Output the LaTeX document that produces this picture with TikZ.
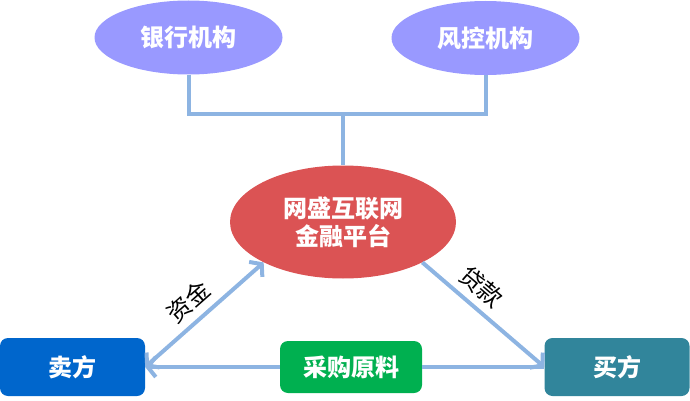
\documentclass[tikz,border=0pt]{standalone}
\usepackage{fontspec}
\setmainfont{Noto Sans CJK SC}
\usetikzlibrary{positioning,arrows.meta,shapes.geometric}
\definecolor{orgcol}{RGB}{153,153,255}
\definecolor{flow}{RGB}{141,180,226}
\definecolor{platcol}{RGB}{219,83,84}
\definecolor{sellcol}{RGB}{0,102,204}
\definecolor{goodscol}{RGB}{0,176,80}
\definecolor{buycol}{RGB}{49,133,155}
\tikzstyle{every party} = [text=white, font=\bfseries\fontsize{24}{28}\selectfont, inner sep=0pt]
\tikzstyle{org} = [ellipse, fill=orgcol, minimum width=188pt, minimum height=74pt, every party]
\tikzstyle{party} = [rectangle, rounded corners=8pt, minimum width=145pt, minimum height=58pt, every party]
\tikzstyle{link} = [draw=flow, line width=4pt]
\tikzstyle{flowtip} = [>={Straight Barb[length=8pt,width=20pt]}]
\tikzstyle{tag} = [font=\fontsize{24}{26}\selectfont, inner sep=2pt]

\begin{document}
\begin{tikzpicture}[x=1pt, y=-1pt, flowtip]
        \useasboundingbox (0,0) rectangle (690,401);

        % lenders on top
        \node[org] (bank) at (188.5,37.5) {银行机构};
        \node[org] (risk) at (485.5,38) {风控机构};

        % platform
        \node[ellipse, fill=platcol, minimum width=226pt, minimum height=113pt,
              every party, align=center, font=\bfseries\fontsize{24}{28}\selectfont] (platform) at (343,222) {网盛互联网\\金融平台};

        % trading parties
        \node[party, fill=sellcol] (seller) at (72.5,367) {卖方};
        \node[party, fill=buycol] (buyer) at (617,367) {买方};
        \node[party, fill=goodscol, minimum width=142pt, minimum height=52pt] (goods) at (351,367) {采购原料};

        \coordinate (join) at (343,114);
        \draw[link] (bank.south) |- (join) -| (risk.south);
        \draw[link] (join) -- (platform.north);

        \draw[link, <->] (seller.east) -- node[tag, sloped, above=5pt, pos=0.48] {资金} (platform.-153);
        \draw[link, ->] (platform.-27) -- node[tag, sloped, above=5pt, pos=0.38] {贷款} (buyer.west);
        \draw[link, ->] (goods.west) -- (seller.east);
        \draw[link] (goods.east) -- (buyer.west);
\end{tikzpicture}
\end{document}
